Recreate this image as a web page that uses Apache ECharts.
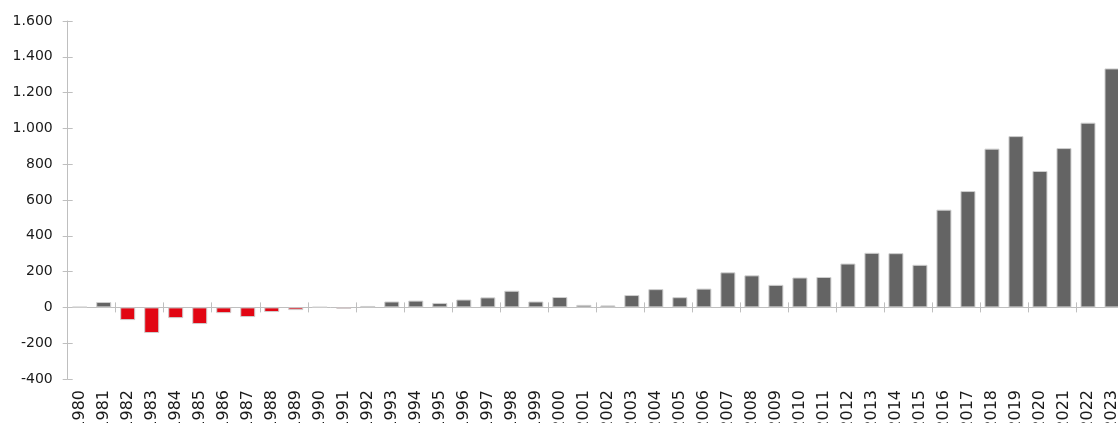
<!DOCTYPE html>
<html>
<head>
<meta charset="utf-8">
<script src="https://cdn.jsdelivr.net/npm/echarts@6/dist/echarts.min.js"></script>
<style>
  html, body { margin: 0; padding: 0; background: #fff; }
  #result { width: 1118px; height: 423px; }
</style>
</head>
<body>
<div id="result"></div>
<script>
// 数据
var years = [];
for (var y = 1980; y <= 2023; y++) years.push(String(y));

var values = [
    3, 30, -71, -143, -60, -93, -32, -54, -26, -15,
    2, -8, 8, 33, 38, 25, 44, 56, 93, 33,
    58, 14, 11, 69, 102, 57, 105, 196, 179, 126,
    167, 170, 245, 305, 303, 238, 546, 650, 887, 957,
    762, 890, 1032, 1335
];

var yTicks = { min: -400, max: 1600, step: 200 };

var axisColor = '#bfbfbf';
var textColor = '#1a1a1a';
var fontName = 'DejaVu Sans';

// 千位分隔符 '.'
function fmt(v) {
    var s = String(Math.abs(v)).replace(/\B(?=(\d{3})+(?!\d))/g, '.');
    return (v < 0 ? '-' : '') + s;
}

var option = {
    animation: false,
    grid: { left: 67.7, right: -6, top: 21, bottom: 44, outerBoundsMode: 'none', containLabel: false },
    // ---- X轴：零线 + 刻度(向外) / 刻度(向内) / 底部标签 ----
    xAxis: [
        {
            type: 'category', data: years, position: 'bottom',
            axisLine: { onZero: true, lineStyle: { color: axisColor, width: 1 } },
            axisTick: { show: true, length: 5, lineStyle: { color: axisColor } },
            axisLabel: { show: false }
        },
        {
            type: 'category', data: years, position: 'bottom',
            axisLine: { show: false, onZero: true },
            axisTick: { show: true, inside: true, length: 5, lineStyle: { color: axisColor } },
            axisLabel: { show: false }
        },
        {
            type: 'category', data: years, position: 'bottom',
            axisLine: { show: false, onZero: false },
            axisTick: { show: false },
            axisLabel: {
                show: true, rotate: 90, margin: 11, interval: 0,
                color: textColor, fontSize: 16, fontFamily: fontName
            }
        }
    ],
    // ---- Y轴 ----
    yAxis: [
        {
            type: 'value', min: yTicks.min, max: yTicks.max, interval: yTicks.step,
            axisLine: { show: true, onZero: false, lineStyle: { color: axisColor } },
            axisTick: { show: true, length: 5, lineStyle: { color: axisColor } },
            axisLabel: {
                margin: 15, color: textColor, fontSize: 14, fontFamily: fontName,
                formatter: fmt
            },
            splitLine: { show: false }
        },
        {
            type: 'value', min: yTicks.min, max: yTicks.max, interval: yTicks.step,
            position: 'left',
            axisLine: { show: false, onZero: false },
            axisTick: { show: true, inside: true, length: 5, lineStyle: { color: axisColor } },
            axisLabel: { show: false },
            splitLine: { show: false }
        }
    ],
    series: [
        {
            type: 'bar',
            xAxisIndex: 0,
            yAxisIndex: 0,
            barWidth: 15,
            data: values,
            itemStyle: {
                color: function (p) { return p.value < 0 ? '#e20613' : '#646464'; },
                borderColor: '#cfcfcf',
                borderWidth: 1
            }
        }
    ]
};

var myResult = echarts.init(document.getElementById('result'));
myResult.setOption(option);
</script>
</body>
</html>
